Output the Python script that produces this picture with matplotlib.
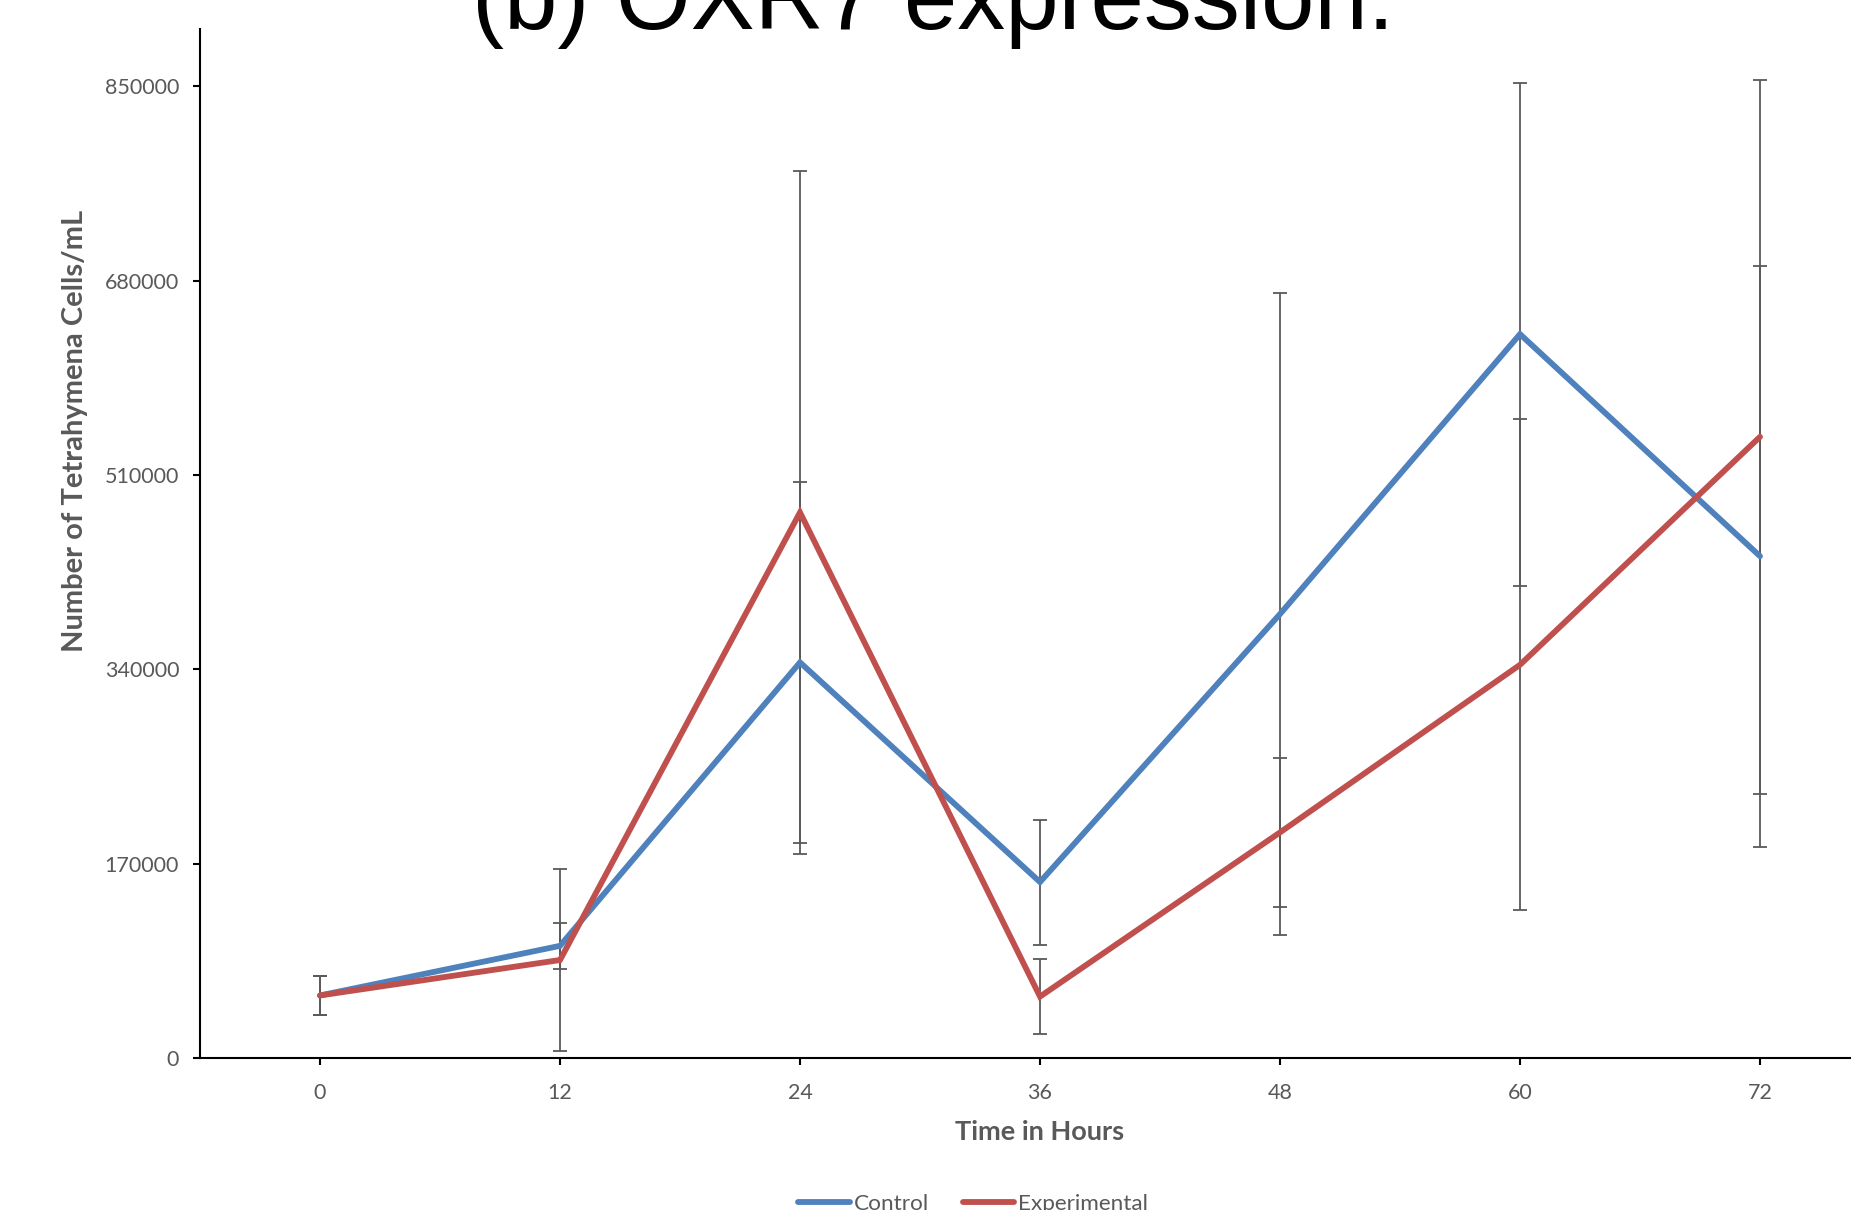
import numpy as np
import matplotlib
matplotlib.use('Agg')
from matplotlib import pyplot as plt

# data
hours = [0, 12, 24, 36, 48, 60, 72]
control = [54700, 98100, 346000, 153900, 388300, 633100, 438900]
control_err = [17000, 20100, 158000, 54700, 280400, 220000, 254000]
experimental = [54700, 85700, 477200, 53700, 197300, 343900, 543300]
experimental_err = [17000, 80000, 298500, 32500, 65000, 214800, 312000]
y_ticks = [0, 170000, 340000, 510000, 680000, 850000]

blue = '#4F81BD'
red = '#C0504D'
grey = '#595959'
tick_font = 'Lato'

fig = plt.figure(figsize=(18.51, 12.10), dpi=100)
ax = fig.add_axes([200 / 1851, 152 / 1210, 1680 / 1851, 1029 / 1210])

ax.errorbar(hours, control, yerr=control_err, fmt='none', ecolor=grey,
            elinewidth=1.3, capsize=5, capthick=1.3, zorder=1)
ax.errorbar(hours, experimental, yerr=experimental_err, fmt='none', ecolor=grey,
            elinewidth=1.3, capsize=5, capthick=1.3, zorder=1)
ax.plot(hours, control, color=blue, lw=4.2, label='Control', zorder=3,
        solid_capstyle='round', solid_joinstyle='miter')
ax.plot(hours, experimental, color=red, lw=4.2, label='Experimental', zorder=4,
        solid_capstyle='round', solid_joinstyle='miter')

ax.set_xlim(-6, 78)
ax.set_ylim(0, 900000)
ax.set_xticks(hours)
ax.set_yticks(y_ticks)
ax.set_xticklabels([str(h) for h in hours])
ax.set_yticklabels([str(v) for v in y_ticks])

for side in ['top', 'right']:
    ax.spines[side].set_visible(False)
for side in ['left', 'bottom']:
    ax.spines[side].set_linewidth(1.5)
    ax.spines[side].set_color('black')
ax.tick_params(direction='out', length=5, width=1.5, colors='black',
               labelcolor=grey, labelsize=15.5, pad=10)
ax.tick_params(axis='x', pad=13)
for lab in ax.get_xticklabels() + ax.get_yticklabels():
    lab.set_family(tick_font)

ax.set_xlabel('Time in Hours', fontsize=19.5, fontweight='bold', color=grey,
              family=tick_font)
ax.xaxis.set_label_coords(0.5, -0.060)
ax.set_ylabel('Number of Tetrahymena Cells/mL', fontsize=21, fontweight='bold',
              color=grey, family=tick_font)
ax.yaxis.set_label_coords(-0.0667, 0.609)

leg = fig.legend(loc='center', bbox_to_anchor=(973 / 1851, (1210 - 1204) / 1210),
                 ncol=2, frameon=False, handlelength=2.3, handletextpad=0.15,
                 columnspacing=1.5, prop={'family': tick_font, 'size': 16.2})
for t in leg.get_texts():
    t.set_color(grey)

# title, cut by the top edge as in the reference
fig.text(472 / 1851, (1210 - 29) / 1210, '(b) OXR7 expression.', fontsize=69,
         family='Liberation Sans', va='baseline', ha='left')

fig.savefig('out.png', dpi=100)
